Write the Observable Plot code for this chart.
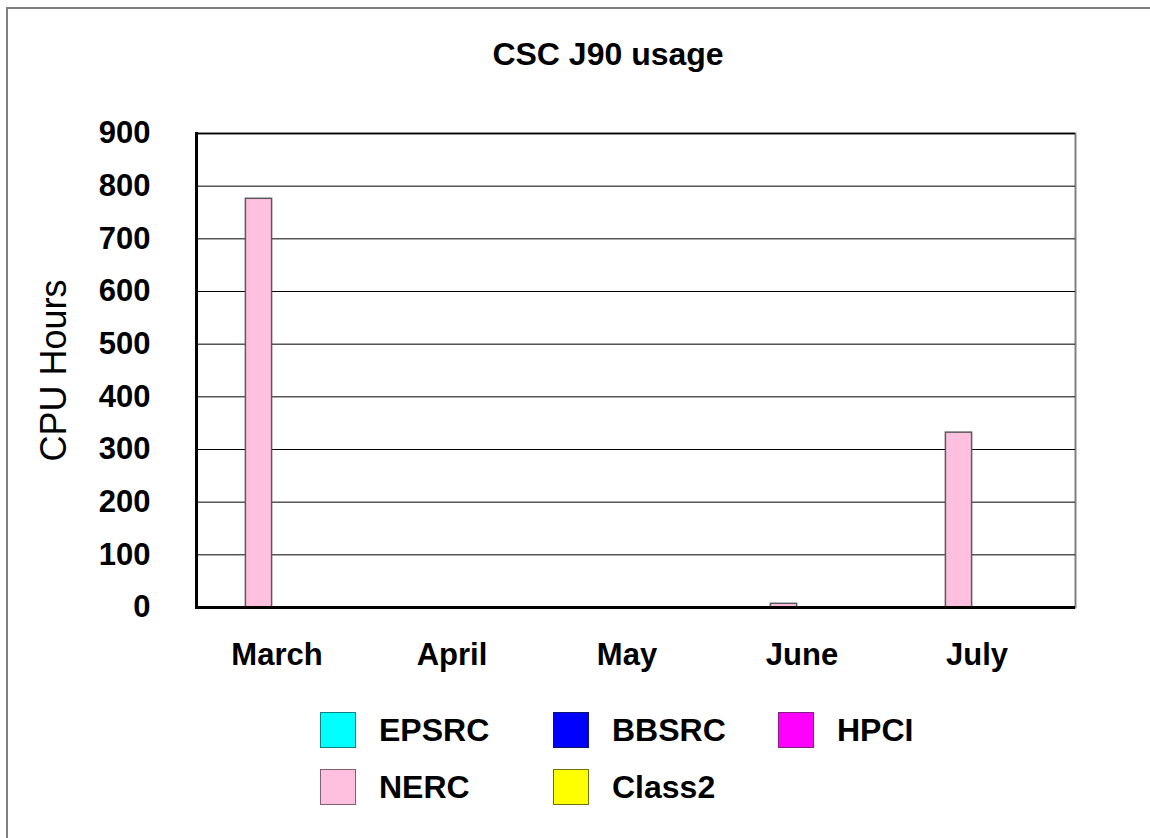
<!DOCTYPE html>
<html>
<head>
<meta charset="utf-8">
<script src="https://cdn.jsdelivr.net/npm/d3@7"></script>
<script src="https://cdn.jsdelivr.net/npm/@observablehq/plot@0.6"></script>
<style>
  html, body { margin: 0; padding: 0; background: #fff; }
  #page { position: relative; width: 1150px; height: 838px; overflow: hidden; font-family: "Liberation Sans", Arial, sans-serif; background: #fff; }
  #border { position: absolute; left: 6px; top: 7px; width: 1200px; height: 900px; border-top: 2px solid #808080; border-left: 2px solid #808080; }
  #title { position: absolute; left: 33px; top: 38px; width: 1150px; text-align: center; font-size: 32px; line-height: 32px; font-weight: bold; color: #000; }
  #chart { position: absolute; left: 0; top: 100px; }
  #legend { position: absolute; left: 320px; top: 712px; display: grid; grid-template-columns: 233px 225px auto; grid-auto-rows: 57px; }
  .item { display: flex; align-items: flex-start; }
  .sw { width: 34px; height: 34px; border: 1.5px solid #555; }
  .lab { margin-left: 23px; font-size: 32px; font-weight: bold; line-height: 37px; color: #000; }
</style>
</head>
<body>
<div id="page">
  <div id="border"></div>
  <div id="title"></div>
  <div id="chart"></div>
  <div id="legend"></div>
</div>
<script>
const title = "CSC J90 usage";
const yLabel = "CPU Hours";
const months = ["March", "April", "May", "June", "July"];
const series = ["EPSRC", "BBSRC", "HPCI", "NERC", "Class2"];
const fills = ["#00ffff", "#0000ff", "#ff00ff", "#ffc0e0", "#ffff00"];
const strokes = ["#108080", "#101070", "#802080", "#806070", "#707010"];
const barSlots = ["EPSRC", "NERC", "BBSRC", "HPCI", "Class2"];
const EPSRC = [0, 0, 0, 0, 0];
const BBSRC = [0, 0, 0, 0, 0];
const HPCI = [0, 0, 0, 0, 0];
const NERC = [776, 0, 0, 7, 332];
const Class2 = [0, 0, 0, 0, 0];
const yTicks = [0, 100, 200, 300, 400, 500, 600, 700, 800, 900];

const valuesBySeries = {EPSRC, BBSRC, HPCI, NERC, Class2};
const data = series.flatMap(s => months.map((m, i) => ({month: m, series: s, value: valuesBySeries[s][i]})));

document.getElementById("title").textContent = title;

const W = 1150, H = 590, mL = 196, mR = 75, mT = 33, mB = 83;
const band = (W - mL - mR) / months.length;
const slotW = 27;
const outer = (band - barSlots.length * slotW) / 2;

const barMarks = series.map((s, k) => {
  const slot = barSlots.indexOf(s);
  const left = outer + slot * slotW;
  return Plot.barY(data.filter(d => d.series === s && d.value > 0), {
    x: "month", y: "value",
    fill: fills[k], stroke: "#5a5a5a", strokeWidth: 1.5,
    insetLeft: left, insetRight: band - left - slotW
  });
});

const chart = Plot.plot({
  width: W, height: H,
  marginLeft: mL, marginRight: mR, marginTop: mT, marginBottom: mB,
  style: {fontFamily: "'Liberation Sans', Arial, sans-serif", color: "#000", background: "transparent", overflow: "visible"},
  x: {domain: months, padding: 0, label: null},
  y: {domain: [0, 900], label: null},
  marks: [
    Plot.frame({stroke: "#808080", strokeWidth: 2}),
    Plot.ruleY(yTicks.filter(t => t > 0 && t < 900), {stroke: "#000", strokeWidth: 1}),
    Plot.ruleY([900], {stroke: "#000", strokeWidth: 1.5}),
    ...barMarks,
    Plot.frame({anchor: "left", stroke: "#000", strokeWidth: 3}),
    Plot.ruleY([0], {stroke: "#000", strokeWidth: 3}),
    Plot.axisY({ticks: yTicks, tickSize: 0, tickPadding: 46, fontSize: 31, fontWeight: "bold", label: null}),
    Plot.axisX({tickSize: 0, tickPadding: 35, fontSize: 31, fontWeight: "bold", dx: -9, label: null}),
    Plot.text([yLabel], {frameAnchor: "left", dx: -142, rotate: -90, fontSize: 36, textAnchor: "middle", lineAnchor: "middle"})
  ]
});
document.getElementById("chart").appendChild(chart);

const legend = document.getElementById("legend");
series.forEach((s, k) => {
  const item = document.createElement("div");
  item.className = "item";
  const sw = document.createElement("div");
  sw.className = "sw";
  sw.style.background = fills[k];
  sw.style.borderColor = strokes[k];
  const lab = document.createElement("span");
  lab.className = "lab";
  lab.textContent = s;
  item.appendChild(sw);
  item.appendChild(lab);
  legend.appendChild(item);
});
</script>
</body>
</html>
